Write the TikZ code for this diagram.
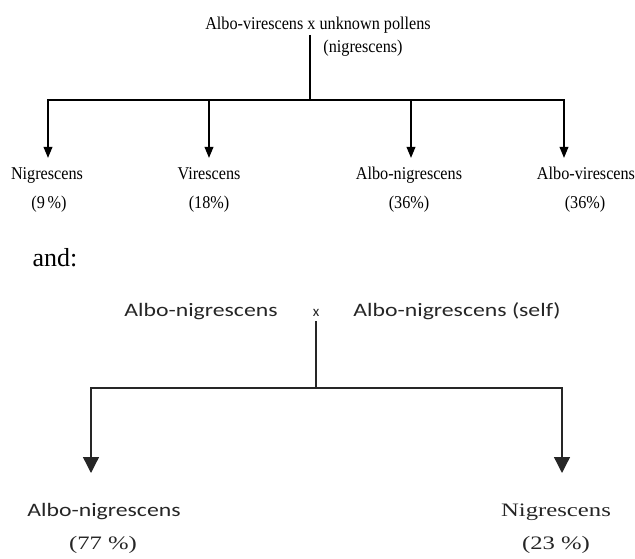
\documentclass[tikz,border=0pt]{standalone}
\usepackage{fontspec}
\usepackage{graphicx}
\setmainfont{Liberation Serif}
\newfontfamily\SansCal{Carlito}
\usetikzlibrary{arrows.meta}
\newcommand\TopTxt[1]{\scalebox{0.9}[1]{\fontsize{18}{20}\selectfont #1}}
\newcommand\BotSans[1]{\scalebox{1.25}[1]{\SansCal\fontsize{19}{21}\selectfont #1}}
\newcommand\BotSerif[1]{\scalebox{1.3}[1]{\fontsize{19}{21}\selectfont #1}}
\begin{document}
\begin{tikzpicture}[x=1pt,y=-1pt,
  lbl/.style={anchor=base,inner sep=0pt,outer sep=0pt},
  botlbl/.style={lbl,text=black!85},
  thickln/.style={line width=1.9pt,line join=miter,black},
  thinln/.style={line width=1.3pt,line join=miter,black!85},
  toparr/.style={-{Triangle[length=11pt,width=8.5pt]}},
  botarr/.style={-{Triangle[length=16pt,width=16pt]}}]
\useasboundingbox (0,0) rectangle (635,559);
% ---------- upper diagram ----------
\node[lbl] (t) at (318,30) {\TopTxt{Albo-virescens x unknown pollens}};
\node[lbl] (tn) at (363,53) {\TopTxt{(nigrescens)}};
\coordinate (s1) at (310,35);
\coordinate (j1) at (310,100);
\coordinate (a1) at (48,158);
\coordinate (a2) at (209,158);
\coordinate (a3) at (411,158);
\coordinate (a4) at (564,158);
\draw[thickln] (s1) -- (j1);
\draw[thickln,toparr] (j1) -| (a1);
\draw[thickln,toparr] (j1) -| (a2);
\draw[thickln,toparr] (j1) -| (a3);
\draw[thickln,toparr] (j1) -| (a4);
\node[lbl] (n1) at (47,180) {\TopTxt{Nigrescens}};
\node[lbl] (n2) at (209,180) {\TopTxt{Virescens}};
\node[lbl] (n3) at (409,180) {\TopTxt{Albo-nigrescens}};
\node[lbl] (n4) at (586,180) {\TopTxt{Albo-virescens}};
\node[lbl] (p1) at (49,208) {\TopTxt{(9\,\%)}};
\node[lbl] (p2) at (209,208) {\TopTxt{(18\%)}};
\node[lbl] (p3) at (409,208) {\TopTxt{(36\%)}};
\node[lbl] (p4) at (585,208) {\TopTxt{(36\%)}};
% ---------- "and:" ----------
\node[lbl] (andtxt) at (55,266) {\fontsize{26}{28}\selectfont and:};
% ---------- lower diagram ----------
\node[botlbl] (b1) at (201,316) {\BotSans{Albo-nigrescens}};
\node[botlbl] (bx) at (316,316) {\SansCal\fontsize{15}{17}\selectfont x};
\node[botlbl] (b2) at (457,316) {\BotSans{Albo-nigrescens (self)}};
\coordinate (s2) at (316,321);
\coordinate (j2) at (316,388);
\coordinate (c1) at (91,473);
\coordinate (c2) at (562,473);
\draw[thinln] (s2) -- (j2);
\draw[thinln,botarr] (j2) -| (c1);
\draw[thinln,botarr] (j2) -| (c2);
\node[botlbl] (l1) at (104,516) {\BotSans{Albo-nigrescens}};
\node[botlbl] (q1) at (103,549) {\BotSerif{(77 \%)}};
\node[botlbl] (l2) at (556,516) {\BotSerif{Nigrescens}};
\node[botlbl] (q2) at (556,549) {\BotSerif{(23 \%)}};
\end{tikzpicture}
\end{document}
